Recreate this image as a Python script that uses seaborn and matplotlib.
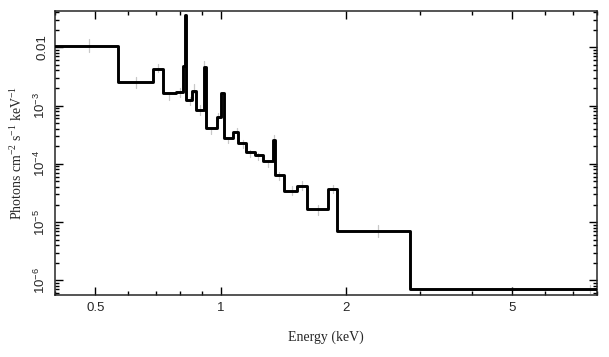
import numpy as np
import pandas as pd
import matplotlib
matplotlib.use("Agg")
import matplotlib.pyplot as plt
import seaborn as sns

# Model step spectrum: bin edges (keV) and flux levels (photons cm^-2 s^-1 keV^-1)
bin_edges = [0.40, 0.567, 0.689, 0.725, 0.780, 0.812, 0.820, 0.826, 0.852, 0.871,
             0.909, 0.921, 0.982, 1.000, 1.019, 1.067, 1.101, 1.149, 1.210, 1.264,
             1.331, 1.352, 1.420, 1.523, 1.609, 1.805, 1.901, 2.853, 8.5]
model_flux = [0.0105, 2.50e-3, 4.18e-3, 1.65e-3, 1.72e-3, 4.77e-3, 0.0356, 1.27e-3,
              1.81e-3, 8.53e-4, 4.57e-3, 4.13e-4, 6.38e-4, 1.65e-3, 2.77e-4, 3.52e-4,
              2.28e-4, 1.57e-4, 1.39e-4, 1.13e-4, 2.59e-4, 6.46e-5, 3.47e-5, 4.18e-5,
              1.66e-5, 3.71e-5, 7.08e-6, 7.0e-7]

# Faint data points (energy, lower, upper)
data_energy = [0.483, 0.626, 0.707, 0.751, 0.797, 0.843, 0.863, 0.891, 0.912, 0.950,
               0.986, 1.042, 1.091, 1.128, 1.175, 1.230, 1.295, 1.343, 1.376, 1.483,
               1.569, 1.708, 1.856, 2.381, 7.68]
data_low = [8.2e-3, 2.04e-3, 3.71e-3, 1.27e-3, 1.43e-3, 1.04e-3, 1.67e-3, 7.0e-4, 4.18e-3,
            3.29e-4, 5.51e-4, 2.30e-4, 3.16e-4, 1.89e-4, 1.32e-4, 1.17e-4, 8.87e-5, 2.30e-4,
            5.30e-5, 2.92e-5, 3.57e-5, 1.32e-5, 3.16e-5, 5.5e-6, 5.97e-7]
data_high = [1.374e-2, 3.04e-3, 5.09e-3, 1.67e-3, 2.04e-3, 1.43e-3, 2.30e-3, 1.04e-3, 5.74e-3,
             4.18e-4, 7.57e-4, 2.81e-4, 4.18e-4, 2.59e-4, 1.74e-4, 1.55e-4, 1.17e-4, 3.16e-4,
             7.27e-5, 4.18e-5, 5.09e-5, 1.96e-5, 4.35e-5, 8.87e-6, 8.2e-7]

x_ticks = [0.5, 1, 2, 5]
x_ticklabels = ["0.5", "1", "2", "5"]
y_ticks = [1e-6, 1e-5, 1e-4, 1e-3, 1e-2]
y_ticklabels = [r"$\mathregular{10^{-6}}$", r"$\mathregular{10^{-5}}$",
                r"$\mathregular{10^{-4}}$", r"$\mathregular{10^{-3}}$", "0.01"]

sns.set_style("ticks")
plt.rcParams["font.family"] = ["Liberation Sans", "DejaVu Sans"]
plt.rcParams["axes.linewidth"] = 1.1

fig = plt.figure(figsize=(6.09, 3.57), dpi=100)
ax = fig.add_axes([55 / 609, 1 - 295 / 357, (597 - 55) / 609, (295 - 11) / 357])

# data error bars (faint)
for e, lo, hi in zip(data_energy, data_low, data_high):
    ax.plot([e, e], [lo, hi], color="#c8c8c8", lw=0.9, zorder=1)

step_df = pd.DataFrame({"energy": bin_edges, "flux": model_flux + [model_flux[-1]]})
sns.lineplot(data=step_df, x="energy", y="flux", drawstyle="steps-post",
             estimator=None, sort=False, color="black", lw=2.1, ax=ax, zorder=3)

ax.set_xscale("log")
ax.set_yscale("log")
ax.set_xlim(0.40, 8.0)
ax.set_ylim(5.6e-7, 0.042)

ax.set_xticks(x_ticks)
ax.set_xticklabels(x_ticklabels, fontsize=9.5)
ax.set_xticks([0.4, 0.6, 0.7, 0.8, 0.9, 3, 4, 6, 7, 8], minor=True)
ax.xaxis.set_minor_formatter(matplotlib.ticker.NullFormatter())
ax.set_yticks(y_ticks)
ax.set_yticklabels(y_ticklabels, fontsize=9.5, rotation=90, va="center")
ax.yaxis.set_minor_locator(matplotlib.ticker.LogLocator(base=10, subs=np.arange(2, 10)))
ax.yaxis.set_minor_formatter(matplotlib.ticker.NullFormatter())

ax.tick_params(which="both", direction="in", top=True, right=True, color="black", width=1.0)
ax.tick_params(which="major", length=6, pad=5)
ax.tick_params(which="minor", length=3)

ax.set_xlabel("Energy (keV)", family="Liberation Serif", fontsize=10, labelpad=12)
ax.set_ylabel(r"Photons cm$\mathregular{^{-2}}$ s$\mathregular{^{-1}}$ keV$\mathregular{^{-1}}$",
              family="Liberation Serif", fontsize=10, labelpad=6)

fig.savefig("out.png", dpi=100)
